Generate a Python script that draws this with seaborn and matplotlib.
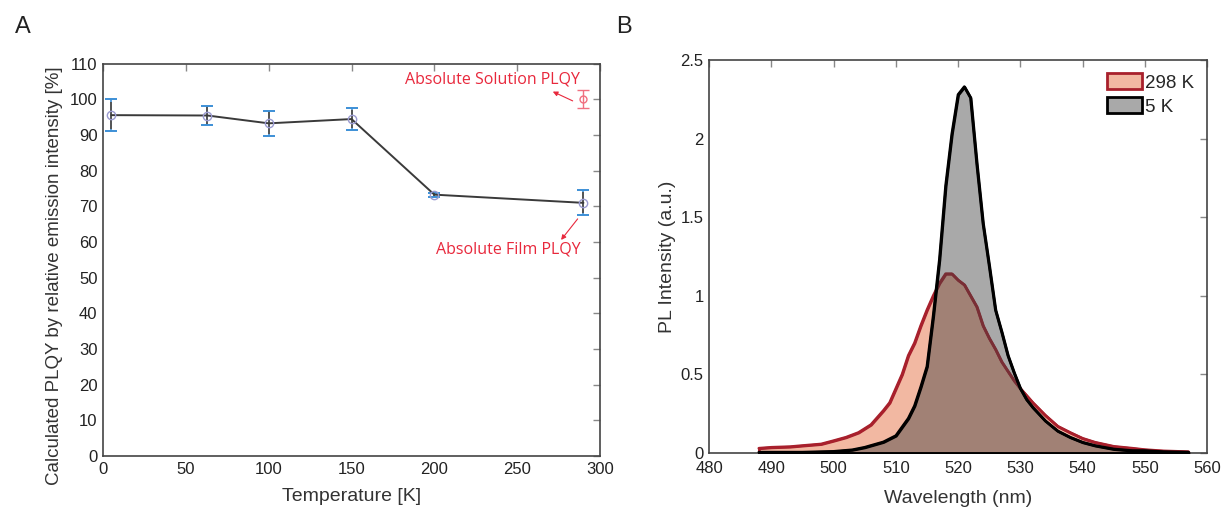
import numpy as np
import pandas as pd
import matplotlib
matplotlib.use("Agg")
import matplotlib.pyplot as plt
import seaborn as sns

# ---------------- data ----------------
temp_K = [5, 63, 100, 150, 200, 290]
plqy_rel = [95.6, 95.5, 93.3, 94.5, 73.3, 71.0]
plqy_err = [4.5, 2.8, 3.6, 3.1, 0.6, 3.5]
sol_T = [290]
sol_plqy = [100.2]
sol_err = [2.5]

wl_298 = [488, 490, 493, 495, 498, 500, 502, 504, 506, 508, 509, 510, 511, 512, 513,
          514, 515, 516, 517, 518, 519, 520, 521, 522, 523, 524, 525, 526, 527, 528,
          529, 530, 532, 534, 536, 538, 540, 542, 545, 548, 550, 553, 557]
pl_298 = [0.03, 0.036, 0.04, 0.047, 0.057, 0.078, 0.10, 0.13, 0.18, 0.27, 0.32, 0.41,
          0.50, 0.62, 0.70, 0.81, 0.91, 1.00, 1.08, 1.14, 1.14, 1.10, 1.07, 1.00, 0.93,
          0.81, 0.73, 0.66, 0.58, 0.52, 0.46, 0.41, 0.32, 0.24, 0.17, 0.13, 0.093,
          0.068, 0.042, 0.03, 0.021, 0.013, 0.008]

wl_5 = [488, 495, 500, 503, 505, 508, 510, 512, 513, 514, 515, 516, 517, 518, 519,
        520, 521, 522, 523, 524, 525, 526, 527, 528, 529, 530, 531, 532, 534, 536,
        538, 540, 542, 545, 548, 550, 553, 557]
pl_5 = [0.005, 0.005, 0.01, 0.02, 0.036, 0.07, 0.11, 0.22, 0.30, 0.42, 0.55, 0.87,
        1.23, 1.70, 2.03, 2.28, 2.33, 2.26, 1.84, 1.46, 1.19, 0.91, 0.77, 0.62, 0.51,
        0.41, 0.34, 0.29, 0.205, 0.14, 0.10, 0.068, 0.047, 0.025, 0.015, 0.015,
        0.008, 0.005]

a_xticks = [0, 50, 100, 150, 200, 250, 300]
a_yticks = [0, 10, 20, 30, 40, 50, 60, 70, 80, 90, 100, 110]
b_xticks = [480, 490, 500, 510, 520, 530, 540, 550, 560]
b_yticks = [0, 0.5, 1, 1.5, 2, 2.5]
b_yticklabels = ["0", "0.5", "1", "1.5", "2", "2.5"]

# ---------------- style ----------------
sns.set_theme(style="white")
plt.rcParams["font.family"] = ["Liberation Sans", "DejaVu Sans"]

fig = plt.figure(figsize=(12.24, 5.08), dpi=100)
axA = fig.add_axes([0.0842, 0.1024, 0.406, 0.772])
axB = fig.add_axes([0.5793, 0.1083, 0.4069, 0.7736])

red = "#e8283c"

def style_axes(ax):
    for s in ax.spines.values():
        s.set_color("#444444")
        s.set_linewidth(1.2)
    ax.tick_params(direction="in", top=True, right=True, length=5, width=1,
                   color="#888888", labelsize=12, labelcolor="#222222", pad=4)

# ---------------- panel A ----------------
dfA = pd.DataFrame({"T": temp_K, "Q": plqy_rel, "E": plqy_err})
axA.errorbar(dfA["T"], dfA["Q"], yerr=dfA["E"], fmt="none", ecolor="#3d8fd6",
             elinewidth=1.2, capsize=4, capthick=1.4, zorder=2)
axA.errorbar(dfA["T"], dfA["Q"], yerr=dfA["E"] * 0.85, fmt="none", ecolor="#555555",
             elinewidth=1.4, capsize=0, zorder=3)
sns.lineplot(data=dfA, x="T", y="Q", ax=axA, color="#3a3a3a", linewidth=1.4,
             marker="o", markersize=6, markerfacecolor="none",
             markeredgecolor="#9a9ad0", markeredgewidth=1, zorder=4)
axA.errorbar(sol_T, sol_plqy, yerr=sol_err, fmt="o", color="#f07080", mfc="none",
             ms=5, ecolor="#f07080", elinewidth=1, capsize=4, capthick=1, zorder=3)

arrow_kw = dict(arrowstyle="-|>", color=red, lw=0.8, mutation_scale=7,
                shrinkA=0, shrinkB=0)
axA.annotate("", xy=(271.5, 102.2), xytext=(283.5, 99.6), arrowprops=arrow_kw)
axA.text(235, 105.6, "Absolute Solution PLQY", color=red, ha="center", va="center",
         fontsize=11.5, family="Open Sans")
axA.annotate("", xy=(276.5, 60.6), xytext=(286.5, 66.5), arrowprops=arrow_kw)
axA.text(244.5, 57.8, "Absolute Film PLQY", color=red, ha="center", va="center",
         fontsize=11.5, family="Open Sans")

axA.set_xlim(0, 300)
axA.set_ylim(0, 110)
axA.set_xticks(a_xticks)
axA.set_yticks(a_yticks)
axA.set_xlabel("Temperature [K]", fontsize=14, color="#333333", labelpad=8)
axA.set_ylabel("Calculated PLQY by relative emission intensity [%]", fontsize=13.5,
               color="#333333", labelpad=6)
axA.yaxis.set_label_coords(-0.08, 0.46)
style_axes(axA)

# ---------------- panel B ----------------
df298 = pd.DataFrame({"wl": wl_298, "pl": pl_298})
df5 = pd.DataFrame({"wl": wl_5, "pl": pl_5})

axB.fill_between(df298["wl"], 0, df298["pl"], color="#f2b8a2", zorder=1,
                 label="298 K", edgecolor="#a8202c", linewidth=2)
sns.lineplot(data=df298, x="wl", y="pl", ax=axB, color="#a8202c", linewidth=2,
             zorder=2, legend=False)
axB.fill_between(df5["wl"], 0, df5["pl"], facecolor=(0.25, 0.25, 0.25, 0.45),
                 edgecolor="black", linewidth=2, zorder=3, label="5 K")
sns.lineplot(data=df5, x="wl", y="pl", ax=axB, color="black", linewidth=2,
             zorder=4, legend=False)

axB.set_xlim(480, 560)
axB.set_ylim(0, 2.5)
axB.set_xticks(b_xticks)
axB.set_yticks(b_yticks)
axB.set_yticklabels(b_yticklabels)
axB.set_xlabel("Wavelength (nm)", fontsize=14, color="#333333", labelpad=10)
axB.set_ylabel("PL Intensity (a.u.)", fontsize=14, color="#333333", labelpad=3)
style_axes(axB)
axB.tick_params(axis="x", pad=6)
leg = axB.legend(loc="upper right", frameon=False, fontsize=13.5, handlelength=1.85,
                 handleheight=0.95, handletextpad=0.15, labelspacing=0.3,
                 borderaxespad=0.3)

fig.text(0.012, 0.935, "A", fontsize=17, color="#222222")
fig.text(0.503, 0.935, "B", fontsize=17, color="#222222")

fig.savefig("out.png", dpi=100)
